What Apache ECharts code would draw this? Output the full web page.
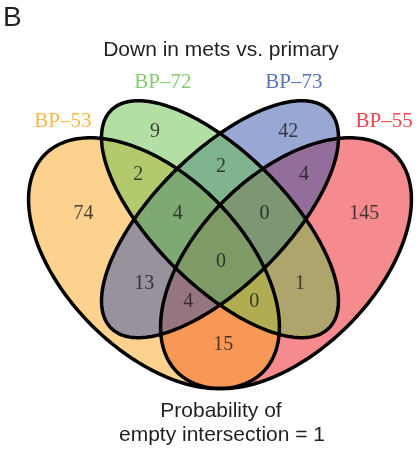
<!DOCTYPE html>
<html><head><meta charset="utf-8">
<script src="https://cdn.jsdelivr.net/npm/echarts@6/dist/echarts.min.js"></script>
<style>html,body{margin:0;padding:0;background:#fff}#c{width:419px;height:453px}</style>
</head><body><div id="c"></div>
<script>
// ---- data ----
const panelLetter = 'B';
const chartTitle = 'Down in mets vs. primary';
const footnoteLines = ['Probability of', 'empty intersection = 1'];
const categories = ['BP–53', 'BP–72', 'BP–73', 'BP–55'];
const categoryColors = ['#FBA51F', '#67BF4B', '#3151A7', '#EB171F'];
const regionSets = ['A', 'B', 'C', 'D', 'AB', 'BC', 'CD', 'ABC', 'BCD', 'ABCD', 'AC', 'BD', 'ACD', 'ABD', 'AD'];
const regionCounts = [74, 9, 42, 145, 2, 2, 4, 4, 0, 0, 13, 1, 4, 0, 15];

// ---- layout (venn units, 0..1) ----
const ellipseLayout = [
  [0.35, 0.47, 0.35, 0.20, -45], // A BP-53
  [0.50, 0.57, 0.35, 0.15, -45], // B BP-72
  [0.50, 0.57, 0.35, 0.15, 45],  // C BP-73
  [0.65, 0.47, 0.35, 0.20, 45]   // D BP-55
];
const regionAnchor = {
  A: [0.19, 0.582], B: [0.352, 0.769], C: [0.655, 0.769], D: [0.828, 0.582],
  AB: [0.314, 0.67], BC: [0.502, 0.689], CD: [0.691, 0.67],
  ABC: [0.404, 0.582], BCD: [0.601, 0.582], ABCD: [0.502, 0.473],
  AC: [0.328, 0.423], BD: [0.682, 0.423], ACD: [0.428, 0.383], ABD: [0.578, 0.383],
  AD: [0.5075, 0.284]
};
const categoryAnchor = [[0.143, 0.793], [0.370, 0.881], [0.668, 0.881], [0.873, 0.793]];
const fillOrder = [3, 0, 2, 1];

const chart = echarts.init(document.getElementById('c'), null, {renderer: 'canvas'});

function ellipseRender(params, api, filled) {
  const cx = api.value(0), cy = api.value(1), a = api.value(2), b = api.value(3), deg = api.value(4);
  const ci = api.value(5);
  const th = deg * Math.PI / 180, c = Math.cos(th), s = Math.sin(th);
  const pts = [];
  const N = 240;
  for (let i = 0; i < N; i++) {
    const t = i / N * Math.PI * 2;
    const lx = a * Math.cos(t), ly = b * Math.sin(t);
    pts.push(api.coord([cx + lx * c - ly * s, cy + lx * s + ly * c]));
  }
  if (filled) {
    return {type: 'polygon', shape: {points: pts},
      style: {fill: echarts.color.modifyAlpha(categoryColors[ci], 0.5), stroke: null}};
  }
  return {type: 'polygon', shape: {points: pts},
    style: {fill: null, stroke: '#000', lineWidth: 3.5}};
}

const SANS = '"Liberation Sans", Arial, sans-serif';
const SERIF = '"Liberation Serif", "Times New Roman", serif';

chart.setOption({
  animation: false,
  backgroundColor: '#fff',
  grid: {left: 0, top: 30, width: 440, height: 440, containLabel: false, outerBoundsMode: 'none'},
  xAxis: {type: 'value', min: 0, max: 1, show: false},
  yAxis: {type: 'value', min: 0, max: 1, show: false},
  graphic: [
    {type: 'text', x: 3, y: 18, style: {text: panelLetter, fontSize: 28, fontFamily: SANS, fill: '#231F20', align: 'left', verticalAlign: 'middle'}},
    {type: 'text', x: 221, y: 50, style: {text: chartTitle, fontSize: 21, fontFamily: SANS, fill: '#231F20', align: 'center', verticalAlign: 'middle'}},
    {type: 'text', x: 221, y: 411.5, style: {text: footnoteLines[0], fontSize: 21, fontFamily: SANS, fill: '#231F20', align: 'center', verticalAlign: 'middle'}},
    {type: 'text', x: 222, y: 435.3, style: {text: footnoteLines[1], fontSize: 21, fontFamily: SANS, fill: '#231F20', align: 'center', verticalAlign: 'middle'}}
  ],
  series: [
    {
      type: 'custom', z: 1, clip: false, silent: true,
      renderItem: (p, api) => ellipseRender(p, api, true),
      data: fillOrder.map(i => ellipseLayout[i].concat([i]))
    },
    {
      type: 'custom', z: 2, clip: false, silent: true,
      renderItem: (p, api) => ellipseRender(p, api, false),
      data: ellipseLayout.map((e, i) => e.concat([i]))
    },
    {
      type: 'scatter', z: 3, silent: true, symbolSize: 1,
      itemStyle: {color: 'rgba(0,0,0,0)'},
      label: {show: true, position: 'inside', formatter: p => String(p.value[2]),
        fontFamily: SERIF, fontSize: 20, color: '#1a1a1a'},
      data: regionSets.map((k, i) => [regionAnchor[k][0], regionAnchor[k][1], regionCounts[i]])
    },
    {
      type: 'scatter', z: 3, silent: true, symbolSize: 1,
      itemStyle: {color: 'rgba(0,0,0,0)'},
      label: {show: true, position: 'inside', formatter: p => p.name,
        fontFamily: SERIF, fontSize: 21},
      data: categories.map((name, i) => ({name: name, value: categoryAnchor[i],
        label: {color: categoryColors[i]}}))
    }
  ]
});
</script></body></html>
